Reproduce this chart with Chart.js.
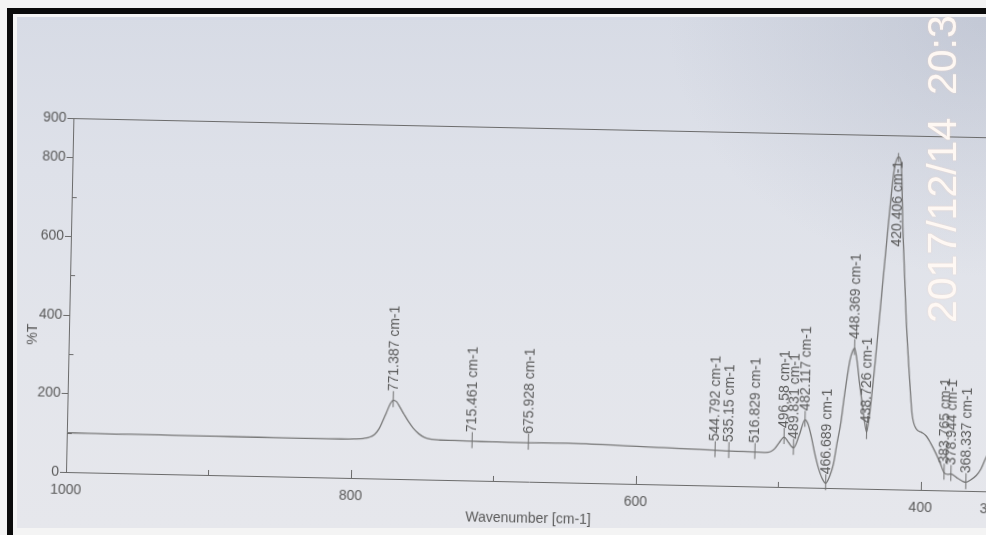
<!DOCTYPE html>
<html>
<head>
<meta charset="utf-8">
<script src="https://cdn.jsdelivr.net/npm/chart.js@4.4.0/dist/chart.umd.min.js"></script>
<style>
  html, body { margin: 0; padding: 0; background: #fff; overflow: hidden; }
  #frame { position: relative; width: 986px; height: 535px; overflow: hidden; background: #f4f4f4; }
  #paper {
    position: absolute; left: 17px; top: 17px; width: 969px; height: 511px;
    background:
      radial-gradient(ellipse 320px 260px at 100% 0%, rgba(150,158,178,0.30), rgba(150,158,178,0) 100%),
      linear-gradient(180deg, #d7dbe5 0%, #dee1e9 30%, #e3e5eb 65%, #e6e7ec 100%);
  }
  #barTop { position: absolute; left: 7px; top: 8px; width: 979px; height: 6px; background: #0b0b0b; }
  #barLeft { position: absolute; left: 7px; top: 8px; width: 6px; height: 527px; background: #0b0b0b; }
  #plot { position: absolute; left: 0; top: 0; transform-origin: 66px 472px; transform: rotate(1.2deg); }
  #stamp {
    position: absolute; left: 922px; top: 323px;
    transform-origin: 0 0; transform: rotate(-90deg);
    font-family: "Liberation Sans", Arial, sans-serif; font-size: 41px; line-height: 41px;
    white-space: pre; color: rgba(255, 250, 245, 0.93);
    text-shadow: 0 0 2px rgba(255, 215, 190, 0.55);
  }
</style>
</head>
<body>
<div id="frame">
  <div id="paper"></div>
  <div id="barTop"></div>
  <div id="barLeft"></div>
  <canvas id="plot" width="1030" height="535"></canvas>
  <div id="stamp">2017/12/14  20:3</div>
</div>
<script>
// IR transmission spectrum, wavenumber [cm-1] vs %T
const wavenumbers = [
  1000, 985, 965, 945, 925, 905, 885, 865, 845, 825, 808, 798, 792, 788, 784, 781, 778.5, 776, 773.5,
  771.387, 769, 766.5, 763.5, 760.5, 757, 753, 749, 744, 738, 728, 715.461, 702, 690, 675.928, 662,
  648, 632, 616, 600, 585, 570, 556, 544.792, 535.15, 525, 516.829, 510, 506, 503, 500, 496.58, 493.3,
  489.831, 486, 482.117, 480, 477.5, 475, 472, 469, 466.689, 464, 461.5, 459.5, 457, 455, 451.4, 449.6,
  448.369, 446.5, 444.5, 442.3, 440.5, 438.726, 436.5, 433.8, 430.3, 426.8, 423.2, 420.406, 418.3,
  416.2, 412.7, 409.1, 407, 404, 400, 397, 393.7, 390, 386.6, 383.765, 381.2, 378.944, 374, 370.5,
  368.337, 365, 361, 358, 355, 352, 350
];
const transmittance = [
  100, 99.5, 99, 99.5, 99, 99, 98.5, 98.5, 98, 98, 98.5, 99.5, 101, 104, 112, 126, 146, 168, 190,
  200, 196, 182, 164, 147, 130, 116, 107, 102.5, 101, 100.5, 100, 99.5, 99, 99, 99.5,
  100, 99, 97.5, 95.5, 94, 92.5, 91, 90, 88.5, 88, 87.5, 87, 89, 97, 112, 127, 113,
  100, 132, 172, 162, 130, 90, 50, 22, 12, 30, 62, 110, 165, 230, 327, 350,
  357, 325, 270, 218, 175, 144, 205, 320, 489, 659, 812, 845, 825,
  660, 439, 271, 190, 155, 146, 138, 120, 95, 69, 45, 41, 42, 31, 24,
  22, 28, 40, 56, 82, 104, 115
];
// picked peak positions
const peakMarks = [
  771.387, 715.461, 675.928, 544.792, 535.15, 516.829, 496.58, 489.831, 482.117,
  466.689, 448.369, 438.726, 420.406, 383.765, 378.944, 368.337
];
const xTickValues = [1000, 900, 800, 700, 600, 500, 400, 350];
const xTickLabels = [1000, 800, 600, 400, 350];
const yTickValues = [0, 100, 200, 300, 400, 500, 600, 700, 800, 900];
const yTickLabels = [0, 200, 400, 600, 800, 900];
const xTitle = 'Wavenumber [cm-1]';
const yTitle = '%T';

const FONT = '"Liberation Sans", Arial, sans-serif';
const INK = '#5a5a5a';
const AXIS = '#6b6b6b';

const markPlugin = {
  id: 'spectrumMarks',
  afterDraw(chart) {
    const { ctx, chartArea: a, scales: { x, y } } = chart;
    ctx.save();
    ctx.strokeStyle = AXIS;
    ctx.lineWidth = 1;

    // upper frame line at the top of the %T range
    ctx.beginPath();
    const yTop = Math.round(y.getPixelForValue(900)) + 0.5;
    ctx.moveTo(a.left, yTop);
    ctx.lineTo(chart.width, yTop);
    ctx.stroke();

    // %T ticks: labelled ones point outward, the rest inward
    yTickValues.forEach(v => {
      const py = Math.round(y.getPixelForValue(v)) + 0.5;
      const major = yTickLabels.includes(v);
      ctx.beginPath();
      if (major) { ctx.moveTo(a.left - 6, py); ctx.lineTo(a.left, py); }
      else { ctx.moveTo(a.left, py); ctx.lineTo(a.left + 5, py); }
      ctx.stroke();
    });

    // wavenumber ticks point up into the plot
    xTickValues.forEach(v => {
      if (v === 1000 || v === 350) return;
      const px = Math.round(x.getPixelForValue(v)) + 0.5;
      const len = xTickLabels.includes(v) ? 8 : 5;
      ctx.beginPath();
      ctx.moveTo(px, a.bottom);
      ctx.lineTo(px, a.bottom - len);
      ctx.stroke();
    });

    // peak markers with their wavenumber written vertically
    ctx.font = '14px ' + FONT;
    ctx.fillStyle = INK;
    ctx.strokeStyle = '#707070';
    ctx.textBaseline = 'middle';
    peakMarks.forEach(wn => {
      const i = wavenumbers.indexOf(wn);
      const px = x.getPixelForValue(wn);
      const py = y.getPixelForValue(transmittance[i]);
      const text = wn + ' cm-1';
      const w = ctx.measureText(text).width;
      const fitsAbove = py - 9 - w > a.top;
      ctx.beginPath();
      if (fitsAbove) { ctx.moveTo(px, py + 7); ctx.lineTo(px, py - 9); }
      else { ctx.moveTo(px, py - 4); ctx.lineTo(px, py + 5); }
      ctx.stroke();
      ctx.save();
      if (fitsAbove) {
        ctx.translate(px, py - 9);
        ctx.rotate(-Math.PI / 2);
        ctx.textAlign = 'left';
      } else {
        ctx.translate(px, py + 4);
        ctx.rotate(-Math.PI / 2);
        ctx.textAlign = 'right';
      }
      ctx.fillText(text, 0, 0);
      ctx.restore();
    });

    // axis titles
    ctx.fillStyle = INK;
    ctx.font = '14px ' + FONT;
    ctx.textAlign = 'center';
    ctx.textBaseline = 'middle';
    ctx.fillText(xTitle, (a.left + a.right) / 2, 509);
    ctx.save();
    ctx.translate(30, 335);
    ctx.rotate(-Math.PI / 2);
    ctx.fillText(yTitle, 0, 0);
    ctx.restore();
    ctx.restore();
  }
};

new Chart(document.getElementById('plot'), {
  type: 'line',
  data: {
    datasets: [{
      data: wavenumbers.map((w, i) => ({ x: w, y: transmittance[i] })),
      borderColor: '#787878',
      borderWidth: 1.3,
      pointRadius: 0,
      cubicInterpolationMode: 'monotone',
      fill: false
    }]
  },
  options: {
    responsive: false,
    animation: false,
    devicePixelRatio: 1,
    layout: { padding: { left: 0, top: 118, right: 38, bottom: 0 } },
    plugins: { legend: { display: false }, tooltip: { enabled: false } },
    scales: {
      x: {
        type: 'linear', reverse: true, min: 350, max: 1000,
        afterBuildTicks: s => { s.ticks = xTickValues.map(v => ({ value: v })); },
        afterFit: s => { s.height = 63; },
        grid: { display: false, drawTicks: false },
        border: { display: true, color: AXIS, width: 1 },
        ticks: {
          autoSkip: false, maxRotation: 0, padding: 10, color: INK,
          font: { family: FONT, size: 14 },
          callback: v => (xTickLabels.includes(v) ? String(v) : '')
        }
      },
      y: {
        type: 'linear', min: 0, max: 900,
        afterBuildTicks: s => { s.ticks = yTickValues.map(v => ({ value: v })); },
        afterFit: s => { s.width = 66; },
        grid: { display: false, drawTicks: false },
        border: { display: true, color: AXIS, width: 1 },
        ticks: {
          autoSkip: false, padding: 7, color: INK,
          font: { family: FONT, size: 14 },
          callback: v => (yTickLabels.includes(v) ? String(v) : '')
        }
      }
    }
  },
  plugins: [markPlugin]
});
</script>
</body>
</html>
